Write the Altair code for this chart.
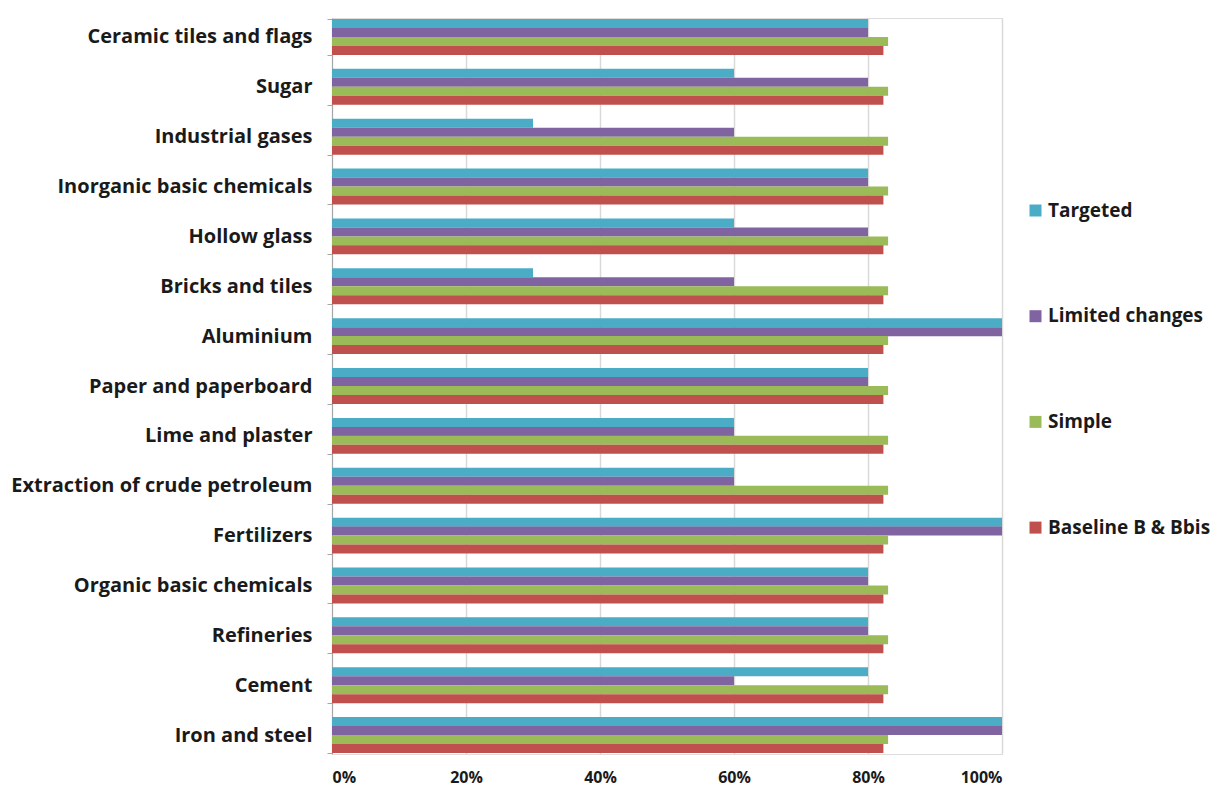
import altair as alt
import pandas as pd

categories = [
    "Ceramic tiles and flags", "Sugar", "Industrial gases", "Inorganic basic chemicals",
    "Hollow glass", "Bricks and tiles", "Aluminium", "Paper and paperboard",
    "Lime and plaster", "Extraction of crude petroleum", "Fertilizers",
    "Organic basic chemicals", "Refineries", "Cement", "Iron and steel",
]
series = ["Targeted", "Limited changes", "Simple", "Baseline B & Bbis"]
colors = ["#4BACC6", "#8064A2", "#9BBB59", "#C0504D"]

targeted = [0.80, 0.60, 0.30, 0.80, 0.60, 0.30, 1.00, 0.80, 0.60, 0.60, 1.00, 0.80, 0.80, 0.80, 1.00]
limited = [0.80, 0.80, 0.60, 0.80, 0.80, 0.60, 1.00, 0.80, 0.60, 0.60, 1.00, 0.80, 0.80, 0.60, 1.00]
simple = [0.83] * 15
baseline = [0.823] * 15

rows = []
for s, vals in zip(series, [targeted, limited, simple, baseline]):
    for c, v in zip(categories, vals):
        rows.append({"category": c, "series": s, "value": v})
df = pd.DataFrame(rows)

FONT = "Open Sans"

chart = alt.Chart(df).mark_bar(size=9).encode(
    y=alt.Y("category:N", sort=categories, title=None,
            scale=alt.Scale(paddingInner=0.28, paddingOuter=0.02),
            axis=alt.Axis(labelFont=FONT, labelFontWeight="bold", labelFontSize=20,
                          labelColor="#1a1a1a", tickBand="extent", domainColor="#a6a6a6",
                          tickColor="#a6a6a6", tickSize=5, labelPadding=15, grid=False,
                          labelLimit=500)),
    yOffset=alt.YOffset("series:N", sort=series),
    x=alt.X("value:Q", title=None,
            scale=alt.Scale(domain=[0, 1], nice=False),
            axis=alt.Axis(format="%", values=[0, 0.2, 0.4, 0.6, 0.8, 1.0],
                          labelFont=FONT, labelFontWeight="bold", labelFontSize=16,
                          labelColor="#1a1a1a", gridColor="#d9d9d9", gridWidth=1.5,
                          domain=False, ticks=False, labelPadding=15)),
    color=alt.Color("series:N", sort=series,
                    scale=alt.Scale(domain=series, range=colors),
                    legend=alt.Legend(title=None, orient="none", legendX=694, legendY=183,
                                      symbolType="square", symbolSize=144,
                                      symbolStrokeWidth=0, labelLimit=400,
                                      labelFont=FONT, labelFontWeight="bold",
                                      labelFontSize=19, labelColor="#1a1a1a",
                                      rowPadding=85.7, labelOffset=3)),
).properties(
    width=670, height=736,
    padding={"left": 2, "top": 0, "right": 2, "bottom": 2},
).configure_view(stroke=None).configure(background="white")

chart.save("out.html", embed_options={"renderer": "svg", "actions": False})
